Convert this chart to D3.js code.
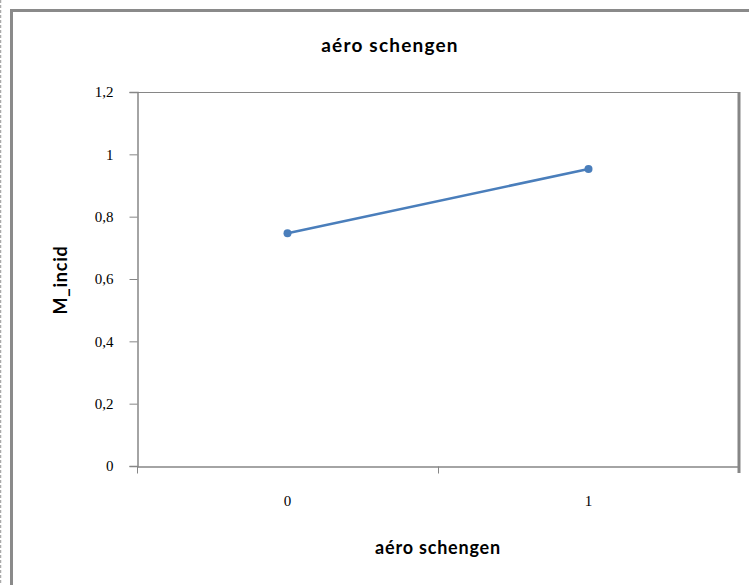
<!DOCTYPE html>
<html><head><meta charset="utf-8">
<script src="https://cdn.jsdelivr.net/npm/d3@7"></script>
<style>body{margin:0;background:#fff}svg{display:block}</style>
</head><body>
<svg id="c" width="749" height="585"></svg>
<script>
const categories = ["0", "1"];
const values = [0.747, 0.953];
const yTicks = [0, 0.2, 0.4, 0.6, 0.8, 1, 1.2];
const yTickLabels = ["0", "0,2", "0,4", "0,6", "0,8", "1", "1,2"];
const title = "aéro schengen";
const xTitle = "aéro schengen";
const yTitle = "M_incid";

const svg = d3.select("#c");
const axisColor = "#868686";
const L = 137, R = 739, T = 92, B = 466;

// outer borders
svg.append("line").attr("x1",0.5).attr("x2",0.5).attr("y1",0).attr("y2",585)
  .attr("stroke","#aaa").attr("stroke-width",1.5).attr("stroke-dasharray","3,2");
svg.append("path").attr("d","M11.5,585 V10.5 H749")
  .attr("fill","none").attr("stroke","#8a8a8a").attr("stroke-width",3);

const x = d3.scaleBand().domain(categories).range([L, R]);
const y = d3.scaleLinear().domain([0, 1.2]).range([B, T]);

// plot area top & right border
svg.append("line").attr("x1",L).attr("x2",R).attr("y1",T+0.5).attr("y2",T+0.5)
  .attr("stroke",axisColor).attr("stroke-width",1);
svg.append("line").attr("x1",R).attr("x2",R).attr("y1",T).attr("y2",B+7)
  .attr("stroke",axisColor).attr("stroke-width",3);

// y axis
const yAxis = d3.axisLeft(y).tickValues(yTicks)
  .tickFormat((d,i)=>yTickLabels[i]).tickSizeOuter(0).tickSize(8).tickPadding(16);
const gy = svg.append("g").attr("transform",`translate(${L+0.5},0)`).call(yAxis);
gy.select(".domain").attr("stroke",axisColor).attr("stroke-width",1.5);
gy.selectAll(".tick line").attr("stroke",axisColor).attr("stroke-width",1);
gy.selectAll(".tick text").attr("font-family","Liberation Serif, serif").attr("font-size",15).attr("fill","#000");

// x axis
const xAxis = d3.axisBottom(x).tickSize(0).tickPadding(29);
const gx = svg.append("g").attr("transform",`translate(0,${B+0.5})`).call(xAxis);
gx.select(".domain").attr("stroke",axisColor).attr("stroke-width",1.5);
gx.selectAll(".tick text").attr("font-family","Liberation Serif, serif").attr("font-size",15).attr("fill","#000");
// category boundary ticks
const bounds = [L, x(categories[1]), R];
gx.selectAll(".bt").data(bounds.slice(0,2)).enter().append("line")
  .attr("x1",d=>d+0.5).attr("x2",d=>d+0.5).attr("y1",0).attr("y2",7)
  .attr("stroke",axisColor).attr("stroke-width",1);

// line + markers
const cx = d => x(d) + x.bandwidth()/2;
const line = d3.line().x((d,i)=>cx(categories[i])).y(d=>y(d));
svg.append("path").datum(values).attr("d",line)
  .attr("fill","none").attr("stroke","#4a7ebb").attr("stroke-width",2.5);
svg.selectAll(".pt").data(values).enter().append("circle")
  .attr("cx",(d,i)=>cx(categories[i])).attr("cy",d=>y(d)).attr("r",4)
  .attr("fill","#4a7ebb");

// titles
svg.append("text").attr("x",390).attr("y",52).attr("text-anchor","middle")
  .attr("font-family","Lato, sans-serif").attr("font-weight","bold").attr("font-size",19)
  .attr("letter-spacing",1.2).text(title);
svg.append("text").attr("x",438).attr("y",554).attr("text-anchor","middle")
  .attr("font-family","Lato, sans-serif").attr("font-weight","bold").attr("font-size",18)
  .attr("letter-spacing",0.8).text(xTitle);
svg.append("text").attr("transform","translate(67,280) rotate(-90)").attr("text-anchor","middle")
  .attr("font-family","Lato, sans-serif").attr("font-weight","bold").attr("font-size",18)
  .attr("letter-spacing",0.8).text(yTitle);
</script>
</body></html>
